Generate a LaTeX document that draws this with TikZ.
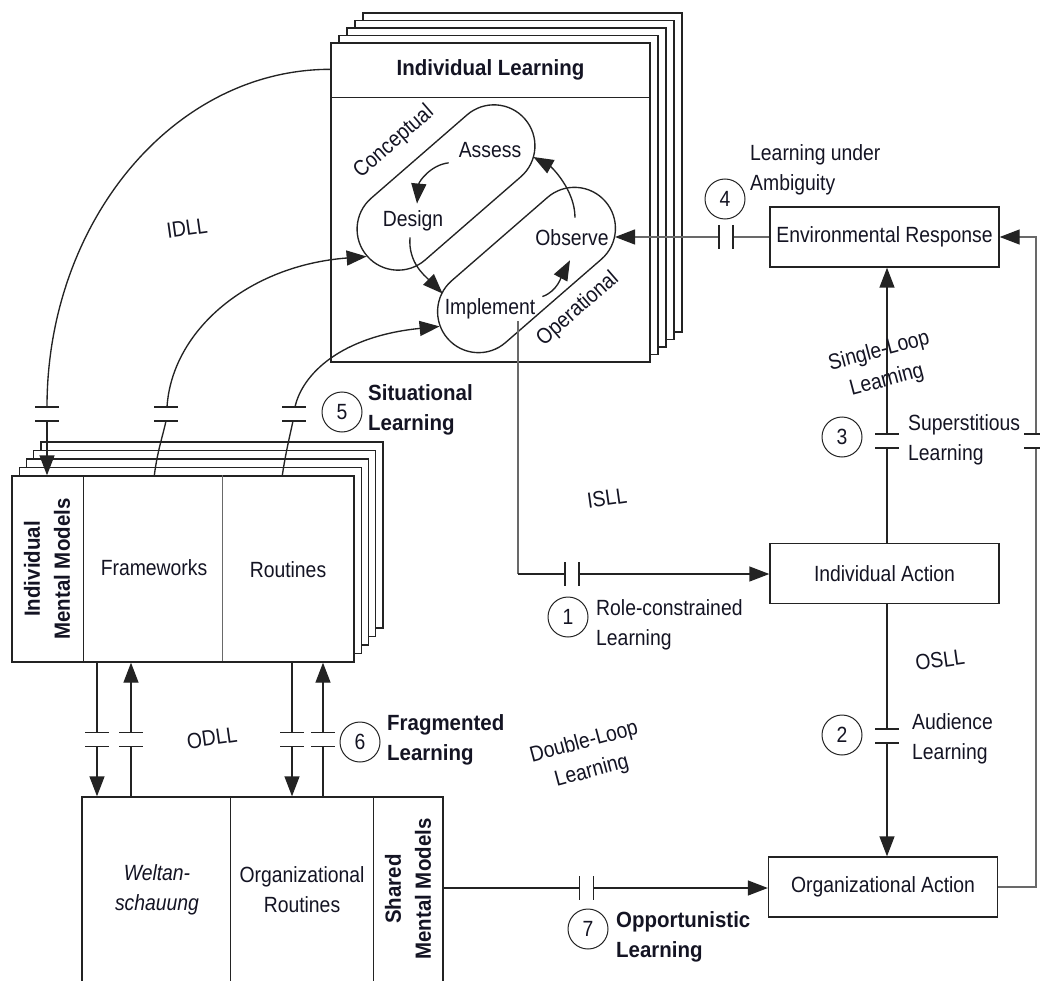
\documentclass[tikz,border=0pt]{standalone}
\usepackage{fontspec}
\setmainfont{Liberation Sans}[FakeStretch=0.88]
\newfontfamily\boldfam{Liberation Sans}[FakeStretch=0.93]
\usetikzlibrary{arrows.meta,shapes.misc,calc}
\definecolor{ink}{RGB}{20,20,35}
\definecolor{wire}{RGB}{35,35,35}
\definecolor{pale}{RGB}{105,105,105}

\begin{document}
\begin{tikzpicture}[x=1pt,y=-1pt,
  every node/.style={text=ink, inner sep=2pt, font=\fontsize{22}{30}\selectfont},
  ln/.style={line width=1.35pt, draw=wire},
  arr/.style={ln, -{Triangle[length=20pt,width=15pt,color=wire]}},
  card/.style={rectangle, draw=wire, line width=1.35pt, fill=white, inner sep=0pt},
  actbox/.style={card, minimum width=229pt, minimum height=60pt},
  num/.style={circle, draw=wire, line width=1pt, minimum size=40pt, inner sep=0pt},
  lbl/.style={align=left, anchor=west, inner sep=0pt},
  blbl/.style={lbl, font=\fontsize{22}{30}\boldfam\bfseries},
  bold/.style={font=\fontsize{22}{30}\boldfam\bfseries},
  tag/.style={inner sep=0pt, align=center},
  loopbox/.style={rounded rectangle, draw=wire, line width=1.35pt, minimum width=209pt,
    minimum height=82pt, inner sep=0pt, rotate=41},
  hgap/.pic={\draw[line width=1.35pt, draw=wire] (-12,-7) -- (12,-7) (-12,7) -- (12,7);},
  vgap/.pic={\draw[line width=1.35pt, draw=wire] (-7,-12) -- (-7,12) (7,-12) -- (7,12);},
]
\useasboundingbox (0,0) rectangle (1040,981);
\clip (0,0) rectangle (1040,981);

% ---------- Individual Learning (stack of cards) ----------
\foreach \k in {4,3,2,1}
  \node[card, minimum width=319pt, minimum height=319pt] (il\k) at (490.5+8*\k, 202.5-7.5*\k) {};
\node[card, minimum width=319pt, minimum height=319pt] (il) at (490.5,202.5) {};
\draw[ln] (il.north west) ++(0,55) -- ++(319,0);
\node[bold] (iltitle) at (490.5,70) {Individual Learning};

\node[loopbox] (concept) at (446,187.5) {};
\node[loopbox] (oper) at (526.5,270) {};
\node[tag, rotate=41] (conclbl) at (394,142) {Conceptual};
\node[tag, rotate=41] (operlbl) at (578,309) {Operational};

\node (assess) at (490,150) {Assess};
\node (design) at (413,221) {Design};
\node (observe) at (572,238) {Observe};
\node (implement) at (490,309) {Implement};

\draw[arr] ($(assess.south west)+(-8,3)$) .. controls +(-18,2) and +(2,-22) .. ($(design.north)+(4,-5)$);
\draw[arr] ($(design.south)+(-3,4)$) .. controls +(-2,25) and +(-18,-18) .. ($(implement.north west)+(0,-3)$);
\draw[arr] ($(implement.north east)+(5,0)$) .. controls +(15,-5) and +(-8,15) .. ($(observe.south)+(-2,12)$);
\draw[arr] ($(observe.north)+(3,-10)$) .. controls +(0,-28) and +(18,10) .. ($(assess.east)+(10,7)$);

% ---------- Individual Mental Models (stack of cards) ----------
\foreach \k in {4,3,2,1}
  \node[card, minimum width=342pt, minimum height=186pt] (imm\k) at (183+7.25*\k, 569-8.5*\k) {};
\node[card, minimum width=342pt, minimum height=186pt] (imm) at (183,569) {};
\draw[ln] (imm.north west) ++(72,0) -- ++(0,186);
\draw[ln, draw=pale] (imm.north west) ++(211,0) -- ++(0,186);
\node[bold, rotate=90, align=center, inner sep=0pt] (immlbl) at (47,569) {Individual\\Mental Models};
\node (fw) at (154,568) {Frameworks};
\node (rt) at (288,570) {Routines};

% ---------- Shared Mental Models ----------
\node[card, minimum width=361pt, minimum height=213pt] (smm) at (262.5,903.5) {};
\draw[ln] (smm.north west) ++(149,0) -- ++(0,213);
\draw[ln] (smm.north west) ++(292,0) -- ++(0,213);
\node[align=center, font=\fontsize{22}{30}\selectfont\itshape] (welt) at (157,890) {Weltan-\\schauung};
\node[align=center] (orgrt) at (302,890) {Organizational\\Routines};
\node[bold, rotate=90, align=center, inner sep=0pt] (smmlbl) at (408,889) {Shared\\Mental Models};

% ---------- Action and response boxes ----------
\node[actbox] (er) at (884.5,237) {Environmental Response};
\node[actbox] (ia) at (884.5,573.5) {Individual Action};
\node[actbox] (oa) at (883,887) {Organizational Action};

% ---------- break points on the connectors ----------
\coordinate (gi1) at (47,407);   \coordinate (gi2) at (47,421);
\coordinate (gf1) at (167,407);  \coordinate (gf2) at (166,421);
\coordinate (gr1) at (295,407);  \coordinate (gr2) at (293,421);
\coordinate (g1l) at (565,574);  \coordinate (g1r) at (579,574);
\coordinate (isllc) at (518,574);
\coordinate (g2a) at (887,729);  \coordinate (g2b) at (887,743);
\coordinate (g3a) at (887,434);  \coordinate (g3b) at (887,448);
\coordinate (g4l) at (720,237);  \coordinate (g4r) at (732,237);
\coordinate (rla) at (1036,434); \coordinate (rlb) at (1036,448);
\coordinate (g7l) at (579,888);  \coordinate (g7r) at (594,888);
\coordinate (d1a) at (97,732);   \coordinate (d1b) at (97,747);
\coordinate (u1a) at (131,732);  \coordinate (u1b) at (131,747);
\coordinate (d2a) at (292,732);  \coordinate (d2b) at (292,747);
\coordinate (u2a) at (323,732);  \coordinate (u2b) at (323,747);

% IDLL: Individual Learning -> Individual Mental Models
\draw[ln] ($(il.north west)+(0,27)$) .. controls +(-157,0) and +(0,-185) .. (gi1);
\draw[arr] (gi2) -- (gi2 |- imm.north);
\pic at (47,414) {hgap};

% Frameworks -> Conceptual
\draw[ln] ($(imm.north west)+(143,0)$) .. controls +(3,-24) and +(-3,14) .. (gf2);
\draw[arr] (gf1) .. controls +(5,-77) and +(-118,9) .. (concept.west);
\pic at (166,414) {hgap};

% Routines -> Operational
\draw[ln] ($(imm.north west)+(271,0)$) .. controls +(3,-21) and +(-3,14) .. (gr2);
\draw[arr] (gr1) .. controls +(7,-32) and +(-100,10) .. (oper.172);
\pic at (294,414) {hgap};

% ODLL: Individual <-> Shared Mental Models
\draw[ln] (d1a |- imm.south) -- (d1a);
\draw[arr] (d1b) -- (d1b |- smm.north);
\draw[ln] (u1b |- smm.north) -- (u1b);
\draw[arr] (u1a) -- (u1a |- imm.south);
\draw[ln] (d2a |- imm.south) -- (d2a);
\draw[arr] (d2b) -- (d2b |- smm.north);
\draw[ln] (u2b |- smm.north) -- (u2b);
\draw[arr] (u2a) -- (u2a |- imm.south);
\foreach \x in {97,131,292,323} \pic at (\x,739.5) {hgap};

% ISLL: Implement -> Individual Action
\draw[ln, draw=pale] (isllc |- implement.south) -- (isllc);
\draw[ln] (isllc) -- (g1l);
\draw[arr] (g1r) -- (g1r -| ia.west);
\pic at (572,574) {vgap};

% Single-loop: Individual Action -> Environmental Response
\draw[ln] (g3b |- ia.north) -- (g3b);
\draw[arr] (g3a) -- (g3a |- er.south);
\pic at (887,441) {hgap};

% OSLL: Individual Action -> Organizational Action
\draw[ln] (g2a |- ia.south) -- (g2a);
\draw[arr] (g2b) -- (g2b |- oa.north);
\pic at (887,736) {hgap};

% Environmental Response -> Observe
\draw[ln, draw=pale] (er.west) -- (g4r);
\draw[arr, draw=pale] (g4l) -- (g4l -| oper.339);
\pic at (726,237) {vgap};

% Organizational Action -> Environmental Response
\draw[ln, draw=pale] (oa.east) -| (rlb);
\draw[arr, draw=pale] (rla) |- (er.east);
\pic at (1036,441) {hgap};

% Shared Mental Models -> Organizational Action
\draw[ln] (g7l -| smm.east) -- (g7l);
\draw[arr] (g7r) -- (g7r -| oa.west);
\pic at (586.5,888) {vgap};

% ---------- numbered learning modes ----------
\node[num] (n1) at (568,617) {1};
\node[lbl] (t1) at (596,625) {Role-constrained\\Learning};
\node[num] (n2) at (842,735) {2};
\node[lbl] (t2) at (912,739) {Audience\\Learning};
\node[num] (n3) at (842,437) {3};
\node[lbl] (t3) at (908,440) {Superstitious\\Learning};
\node[num] (n4) at (725,199) {4};
\node[lbl] (t4) at (750,170) {Learning under\\Ambiguity};
\node[num] (n5) at (342,412) {5};
\node[blbl] (t5) at (368,410) {Situational\\Learning};
\node[num] (n6) at (360,742) {6};
\node[blbl] (t6) at (387,740) {Fragmented\\Learning};
\node[num] (n7) at (588,929) {7};
\node[blbl] (t7) at (616,937) {Opportunistic\\Learning};

% ---------- loop labels ----------
\node[tag, rotate=8] (idll) at (187,228) {IDLL};
\node[tag, rotate=8] (odll) at (212,738) {ODLL};
\node[tag, rotate=8] (isll) at (607,498) {ISLL};
\node[tag, rotate=8] (osll) at (940,660) {OSLL};
\node[tag, rotate=15] (dll) at (588,757) {Double-Loop\\Learning};
\node[tag, rotate=15] (sll) at (883,366) {Single-Loop\\Learning};
\end{tikzpicture}
\end{document}
